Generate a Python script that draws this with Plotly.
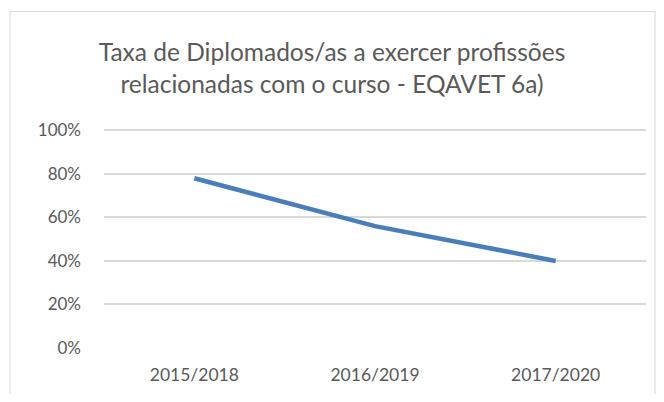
import plotly.graph_objects as go

categories = ["2015/2018", "2016/2019", "2017/2020"]
values = [0.78, 0.56, 0.40]
y_ticks = [0, 0.2, 0.4, 0.6, 0.8, 1.0]
y_tick_labels = ["0%", "20%", "40%", "60%", "80%", "100%"]
title_text = "Taxa de Diplomados/as a exercer profissões<br>relacionadas com o curso - EQAVET 6a)"

# the page body has an 8px margin, so figure coords = screen coords - 8
OFF = 8
W, H = 648, 386
Y_MAX = 1.02
PX_PER_UNIT = 348 - 130  # pixels for 0..1 on screen
L, R = 104 - OFF, W - (646 - OFF)
B = H - (348 - OFF)
T = (348 - OFF) - PX_PER_UNIT * Y_MAX
pw, ph = W - L - R, H - T - B

def px_x(x):
    return (x - OFF - L) / pw

def px_y(y):
    return (H - B - (y - OFF)) / ph

fig = go.Figure()
fig.add_trace(go.Scatter(
    x=categories, y=values, mode="lines",
    line=dict(color="#4a7ebb", width=4.5, shape="linear"),
    hoverinfo="skip", showlegend=False,
))

font_family = "Lato, 'Open Sans', sans-serif"
fig.update_layout(
    width=W, height=H,
    margin=dict(l=L, r=R, t=T, b=B),
    paper_bgcolor="white", plot_bgcolor="white",
    font=dict(family=font_family, color="#595959", size=16),
    title=dict(text=title_text, x=(332 - OFF) / W, xanchor="center",
               y=1 - (61 - OFF) / H, yanchor="middle", yref="container",
               font=dict(size=24.5, color="#595959", family=font_family)),
    xaxis=dict(range=[-0.5, 2.5], showgrid=False, zeroline=False,
               showline=False, ticks="", ticklabelstandoff=14,
               tickfont=dict(size=17.5, color="#595959")),
    yaxis=dict(range=[0, Y_MAX], tickvals=y_ticks, ticktext=y_tick_labels,
               showgrid=True, gridcolor="#d9d9d9", gridwidth=1.5,
               zeroline=False, showline=False, ticks="", ticklabelstandoff=22,
               tickfont=dict(size=17, color="#595959")),
    shapes=[dict(type="rect", xref="paper", yref="paper",
                 x0=px_x(10), x1=px_x(655), y0=px_y(430), y1=px_y(11),
                 line=dict(color="#d9d9d9", width=1), fillcolor="rgba(0,0,0,0)",
                 layer="below")],
)
fig.write_html("out.html")
